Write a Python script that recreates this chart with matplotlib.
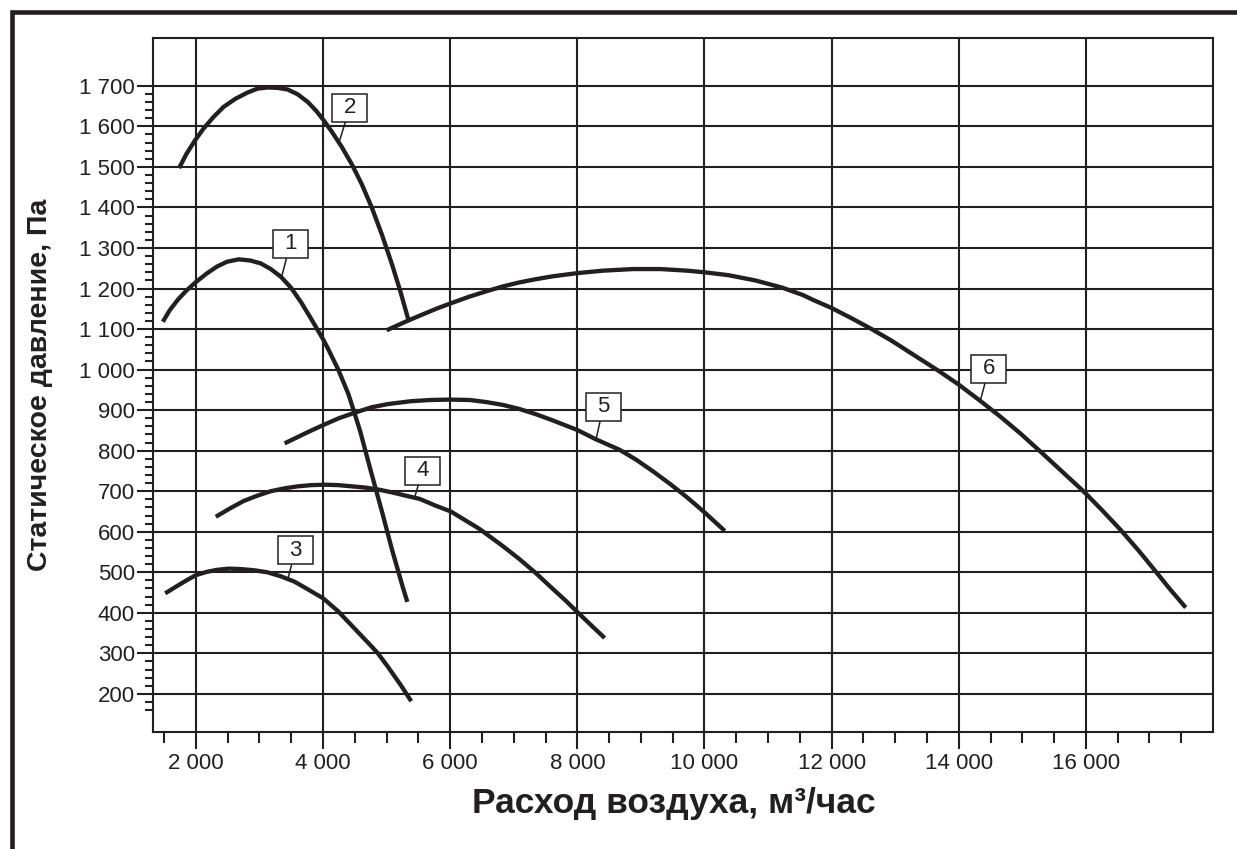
import matplotlib
matplotlib.use('Agg')
import matplotlib.pyplot as plt
from matplotlib import font_manager
from matplotlib.lines import Line2D
from matplotlib.ticker import FixedLocator, FuncFormatter
import numpy as np

# Кривые вентиляторов
x1 = [1480, 1586, 1719, 1851, 2000, 2170, 2329, 2488, 2674, 2859, 3019, 3178, 3337, 3496,
      3655, 3814, 4000, 4080, 4239, 4398, 4480, 4584, 4753, 4928, 5088, 5257, 5326]
y1 = [1118, 1146, 1173, 1195, 1216, 1237, 1254, 1266, 1272, 1269, 1262, 1248, 1229, 1202,
      1166, 1125, 1075, 1051, 1000, 940, 900, 848, 749, 649, 554, 462, 427]

x2 = [1735, 1851, 1984, 2117, 2276, 2435, 2621, 2806, 2966, 3125, 3284, 3443, 3602, 3761,
      3894, 4000, 4133, 4292, 4451, 4610, 4769, 4928, 5088, 5220, 5353]
y2 = [1497, 1532, 1565, 1594, 1623, 1648, 1668, 1683, 1693, 1696, 1695, 1691, 1679, 1660,
      1638, 1617, 1588, 1550, 1507, 1457, 1399, 1332, 1258, 1191, 1117]

x3 = [1517, 1692, 1851, 2000, 2170, 2329, 2515, 2700, 2912, 3125, 3337, 3549, 3761, 4000,
      4236, 4497, 4758, 4863, 5020, 5230, 5387]
y3 = [448, 465, 480, 493, 501, 506, 509, 508, 505, 500, 490, 477, 458, 436,
      404, 361, 318, 300, 267, 220, 182]

x4 = [2313, 2541, 2753, 2966, 3178, 3390, 3602, 3814, 4027, 4239, 4451, 4663, 4875, 5088,
      5300, 5520, 5777, 6010, 6460, 6825, 7086, 7347, 7608, 7817, 8000, 8240, 8430]
y4 = [637, 658, 676, 689, 700, 707, 712, 715, 716, 715, 712, 709, 704, 697,
      689, 681, 664, 650, 607, 565, 533, 498, 460, 430, 402, 366, 338]

x5 = [3396, 3737, 4000, 4248, 4505, 4763, 5021, 5381, 5690, 6000, 6310, 6564, 6825,
      7086, 7347, 7608, 8000, 8293, 8667, 8933, 9200, 9467, 9733, 10000, 10320]
y5 = [818, 844, 863, 880, 894, 907, 915, 922, 925, 926, 925, 920, 913,
      903, 890, 875, 851, 828, 802, 777, 748, 717, 684, 648, 602]

x6 = [5000, 5353, 5520, 5780, 6000, 6303, 6564, 6825, 7086, 7347, 7608, 8000, 8400, 8880,
      9307, 9733, 10000, 10373, 10800, 11227, 11547, 11708, 12000, 12322, 12629, 12936, 13056,
      13374, 13692, 14000, 14329, 14647, 14966, 15284, 15602, 15920, 16000, 16262, 16550,
      16838, 17073, 17309, 17571]
y6 = [1097, 1122, 1133, 1150, 1163, 1180, 1193, 1205, 1215, 1223, 1230, 1238, 1244, 1248,
      1248, 1244, 1240, 1233, 1220, 1202, 1184, 1172, 1152, 1126, 1100, 1072, 1060,
      1028, 996, 963, 924, 885, 843, 798, 752, 706, 694, 652, 604,
      552, 507, 461, 413]

curves = [(x1, y1), (x2, y2), (x3, y3), (x4, y4), (x5, y5), (x6, y6)]
curve_names = ['1', '2', '3', '4', '5', '6']

x_major = [2000, 4000, 6000, 8000, 10000, 12000, 14000, 16000]
y_major = [200, 300, 400, 500, 600, 700, 800, 900, 1000, 1100, 1200, 1300, 1400, 1500, 1600, 1700]

# подписи кривых: центр рамки и точка на кривой
label_box = [(3485, 1311), (4420, 1646), (3564, 554), (5565, 751), (8409, 908), (14474, 1002)]
label_tip = [(3352, 1231), (4263, 1566), (3451, 486), (5442, 685), (8297, 830), (14346, 927)]

ink = '#231f20'

installed = {f.name for f in font_manager.fontManager.ttflist}
narrow = 'Liberation Sans Narrow' if 'Liberation Sans Narrow' in installed else 'Liberation Sans'
ylabel_size = 25 if narrow == 'Liberation Sans Narrow' else 20.5

plt.rcParams['font.family'] = ['Liberation Sans', 'DejaVu Sans']

fig = plt.figure(figsize=(12.37, 8.49), dpi=100)
ax = fig.add_axes([153 / 1237, 117 / 849, 1060 / 1237, 694 / 849])

for (xs, ys) in curves:
    ax.plot(xs, ys, color=ink, lw=3.1, solid_capstyle='butt', solid_joinstyle='round', zorder=3)

ax.set_xlim(1325, 18000)
ax.set_ylim(106, 1818)

ax.xaxis.set_major_locator(FixedLocator(x_major))
ax.yaxis.set_major_locator(FixedLocator(y_major))
ax.xaxis.set_minor_locator(FixedLocator(np.arange(1500, 17501, 500)))
ax.yaxis.set_minor_locator(FixedLocator(np.arange(160, 1701, 20)))
fmt = FuncFormatter(lambda v, p: f'{int(v):,}'.replace(',', ' '))
ax.xaxis.set_major_formatter(fmt)
ax.yaxis.set_major_formatter(fmt)

ax.grid(True, which='major', color=ink, lw=1.5)
ax.set_axisbelow(True)
for s in ax.spines.values():
    s.set_linewidth(1.5)
    s.set_color(ink)

ax.tick_params(which='both', direction='out', width=1.5, color=ink, labelcolor=ink, labelsize=16)
ax.tick_params(axis='x', which='major', length=12.2, pad=3)
ax.tick_params(axis='x', which='minor', length=8)
ax.tick_params(axis='y', which='major', length=11.5, pad=1.5)
ax.tick_params(axis='y', which='minor', length=5.8)

ax.set_xlabel('Расход воздуха, м³/час', fontsize=25.5, fontweight='bold', color=ink, va='baseline')
ax.xaxis.set_label_coords((674 - 153) / 1060, -(813 - 732) / 694)
ax.set_ylabel('Статическое давление, Па', fontsize=ylabel_size, fontweight='bold',
              color=ink, family=narrow, va='center')
ax.yaxis.set_label_coords((40 - 153) / 1060, 0.5)

for name, box, tip in zip(curve_names, label_box, label_tip):
    ax.annotate(name, xy=tip, xytext=box, ha='center', va='center', fontsize=16, color=ink,
                bbox=dict(boxstyle='square,pad=0.51', mutation_aspect=0.31, fc='white', ec=ink, lw=1.1),
                arrowprops=dict(arrowstyle='-', color=ink, lw=1.1, shrinkA=0, shrinkB=0),
                zorder=5)

# рамка листа
fig.add_artist(Line2D([11.7 / 1237, 11.7 / 1237, 1.0], [0, 837 / 849, 837 / 849],
                      transform=fig.transFigure, color=ink, lw=3.3,
                      solid_joinstyle='miter', solid_capstyle='butt'))

fig.savefig('out.png', dpi=100)
